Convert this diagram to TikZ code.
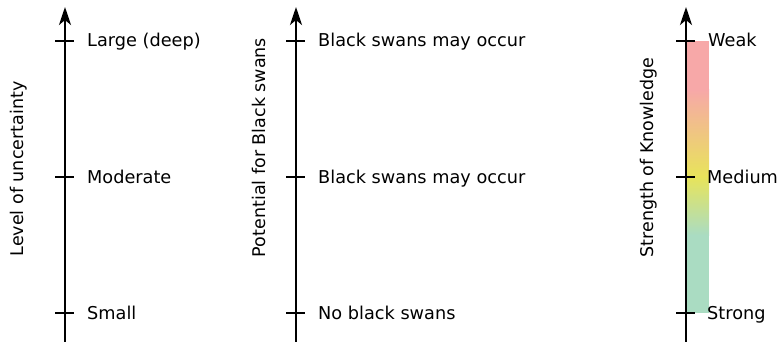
\documentclass[tikz,border=0pt]{standalone}
\usepackage{fontspec}
\setmainfont{DejaVu Sans}
\usetikzlibrary{arrows.meta}
\definecolor{pinkc}{HTML}{F7A8A8}
\definecolor{yellowc}{HTML}{E8E45A}
\definecolor{mintc}{HTML}{AADCC2}
\tikzset{
  axisline/.style={line width=2.6pt,-{Stealth[length=18pt,width=12pt,inset=5pt]}},
  tickmark/.style={line width=1.6pt},
  lbl/.style={anchor=base west,inner sep=0pt,font=\fontsize{17.7}{20}\selectfont},
  title/.style={rotate=90,inner sep=0pt,font=\fontsize{17.5}{20}\selectfont},
}
\begin{document}
\begin{tikzpicture}[x=1pt,y=-1pt]
\useasboundingbox (0,0) rectangle (777,342);
% colour bar
\fill[pinkc] (686,41) rectangle (709,90);
\shade[top color=pinkc,bottom color=yellowc] (686,89.5) rectangle (709,177);
\shade[top color=yellowc,bottom color=mintc] (686,176.5) rectangle (709,235);
\fill[mintc] (686,234.5) rectangle (709,313);
% axes
\foreach \n/\x in {a/65,b/296,c/686}{
  \coordinate (\n0) at (\x,342);
  \coordinate (\n1) at (\x,7);
  \draw[axisline] (\n0) -- (\n1);
  \foreach \y [count=\i] in {41,177,313}{
    \coordinate (\n t\i l) at (\x-10,\y);
    \coordinate (\n t\i r) at (\x+9,\y);
    \draw[tickmark] (\n t\i l) -- (\n t\i r);
  }
}
% labels
\node[lbl] (la1) at (87,47) {Large (deep)};
\node[lbl] (la2) at (87,183) {Moderate};
\node[lbl] (la3) at (87,319) {Small};
\node[lbl] (lb1) at (318,47) {Black swans may occur};
\node[lbl] (lb2) at (318,183) {Black swans may occur};
\node[lbl] (lb3) at (318,319) {No black swans};
\node[lbl] (lc1) at (708,47) {Weak};
\node[lbl] (lc2) at (707,183) {Medium};
\node[lbl] (lc3) at (707,319) {Strong};
% titles
\node[title] (ta) at (19,169) {Level of uncertainty};
\node[title] (tb) at (259,147.5) {Potential for Black swans};
\node[title] (tc) at (649,157.5) {Strength of Knowledge};
\end{tikzpicture}
\end{document}
